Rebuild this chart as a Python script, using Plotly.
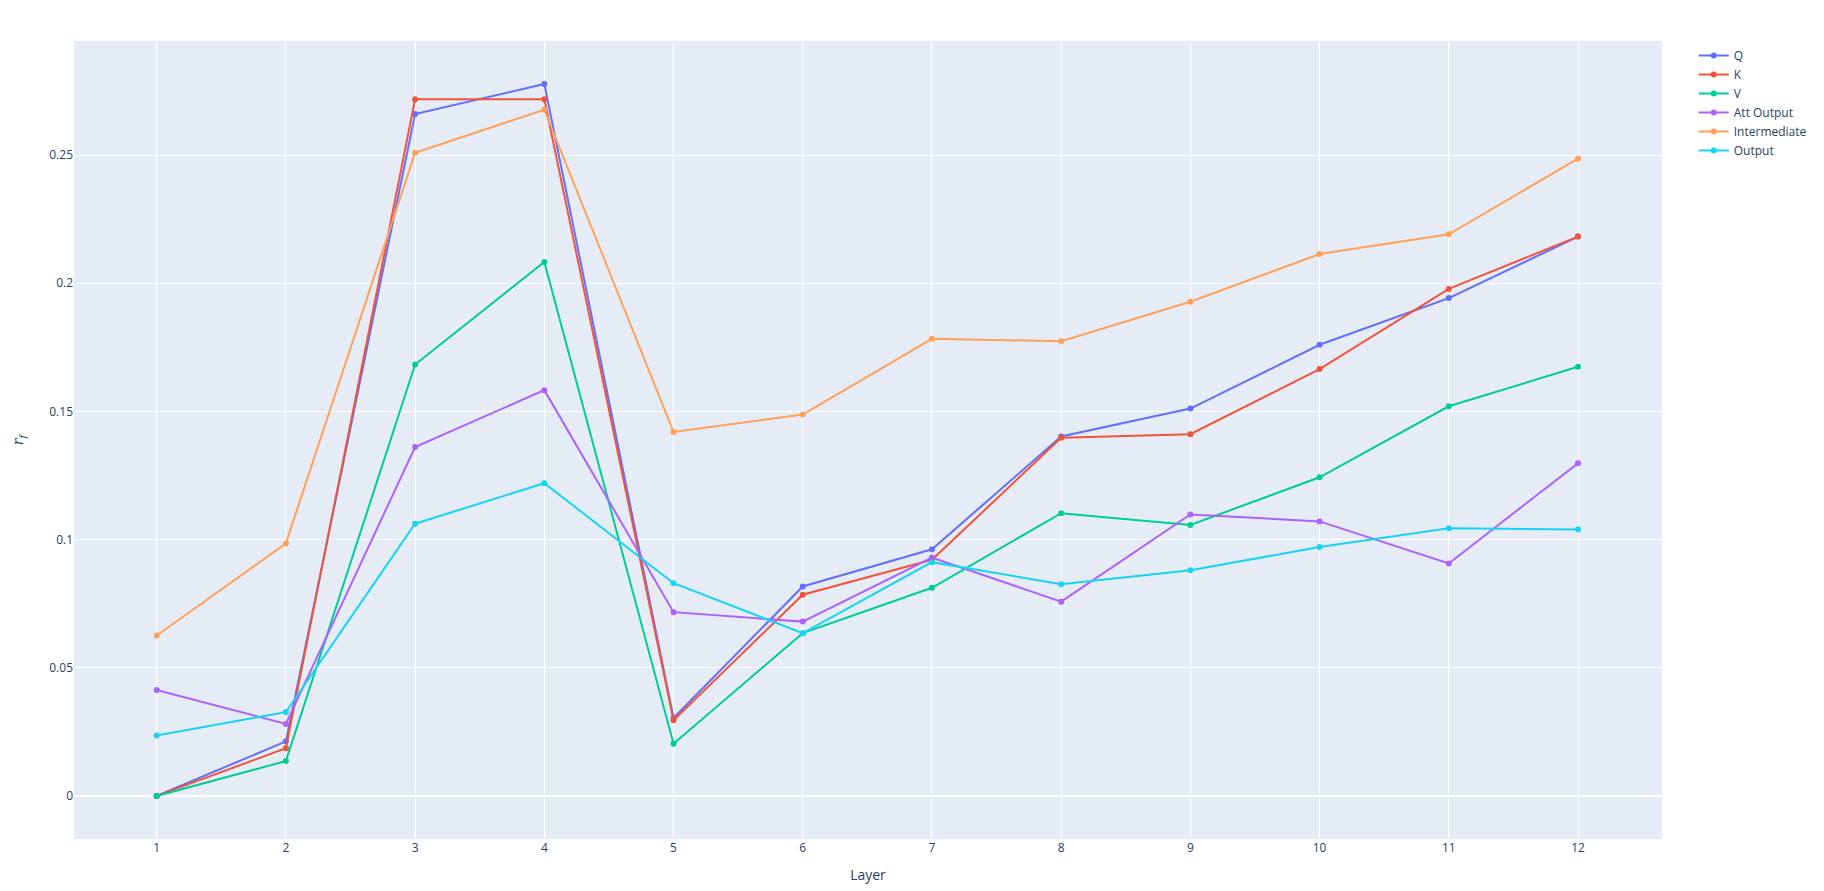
import plotly.graph_objects as go

layers = list(range(1, 13))
series_names = ["Q", "K", "V", "Att Output", "Intermediate", "Output"]
q_vals = [0.0, 0.0213, 0.266, 0.2777, 0.0304, 0.0817, 0.0962, 0.1402, 0.1511, 0.176, 0.1942, 0.2182]
k_vals = [0.0, 0.0186, 0.2718, 0.2718, 0.0295, 0.0785, 0.0921, 0.1397, 0.1411, 0.1665, 0.1978, 0.2182]
v_vals = [0.0, 0.0136, 0.1683, 0.2083, 0.0204, 0.0635, 0.0812, 0.1103, 0.1057, 0.1243, 0.152, 0.1674]
att_out_vals = [0.0413, 0.0281, 0.1361, 0.1583, 0.0717, 0.068, 0.093, 0.0758, 0.1098, 0.1071, 0.0907, 0.1298]
inter_vals = [0.0626, 0.0985, 0.2509, 0.2677, 0.142, 0.1488, 0.1783, 0.1774, 0.1928, 0.2114, 0.2191, 0.2486]
output_vals = [0.0236, 0.0327, 0.1062, 0.122, 0.083, 0.0635, 0.0912, 0.0826, 0.088, 0.0971, 0.1044, 0.1039]

all_vals = [q_vals, k_vals, v_vals, att_out_vals, inter_vals, output_vals]

fig = go.Figure()
for name, vals in zip(series_names, all_vals):
    fig.add_trace(go.Scatter(x=layers, y=vals, mode="lines+markers", name=name))

fig.update_layout(
    template="plotly",
    width=1824, height=891,
    margin=dict(l=74, r=157, t=41, b=52),
    xaxis=dict(title=dict(text="Layer"), tickmode="array", tickvals=layers,
               range=[0.36, 12.65], automargin=False),
    yaxis=dict(title=dict(text="<i>r</i><sub><i>f</i></sub>", font=dict(family="DejaVu Serif", size=14), standoff=22),
               range=[-0.0168, 0.2945], dtick=0.05, automargin=False),
)
fig.write_html("out.html", config={"displayModeBar": False},
               post_script="document.body.style.margin='0';document.body.style.overflow='hidden';")
